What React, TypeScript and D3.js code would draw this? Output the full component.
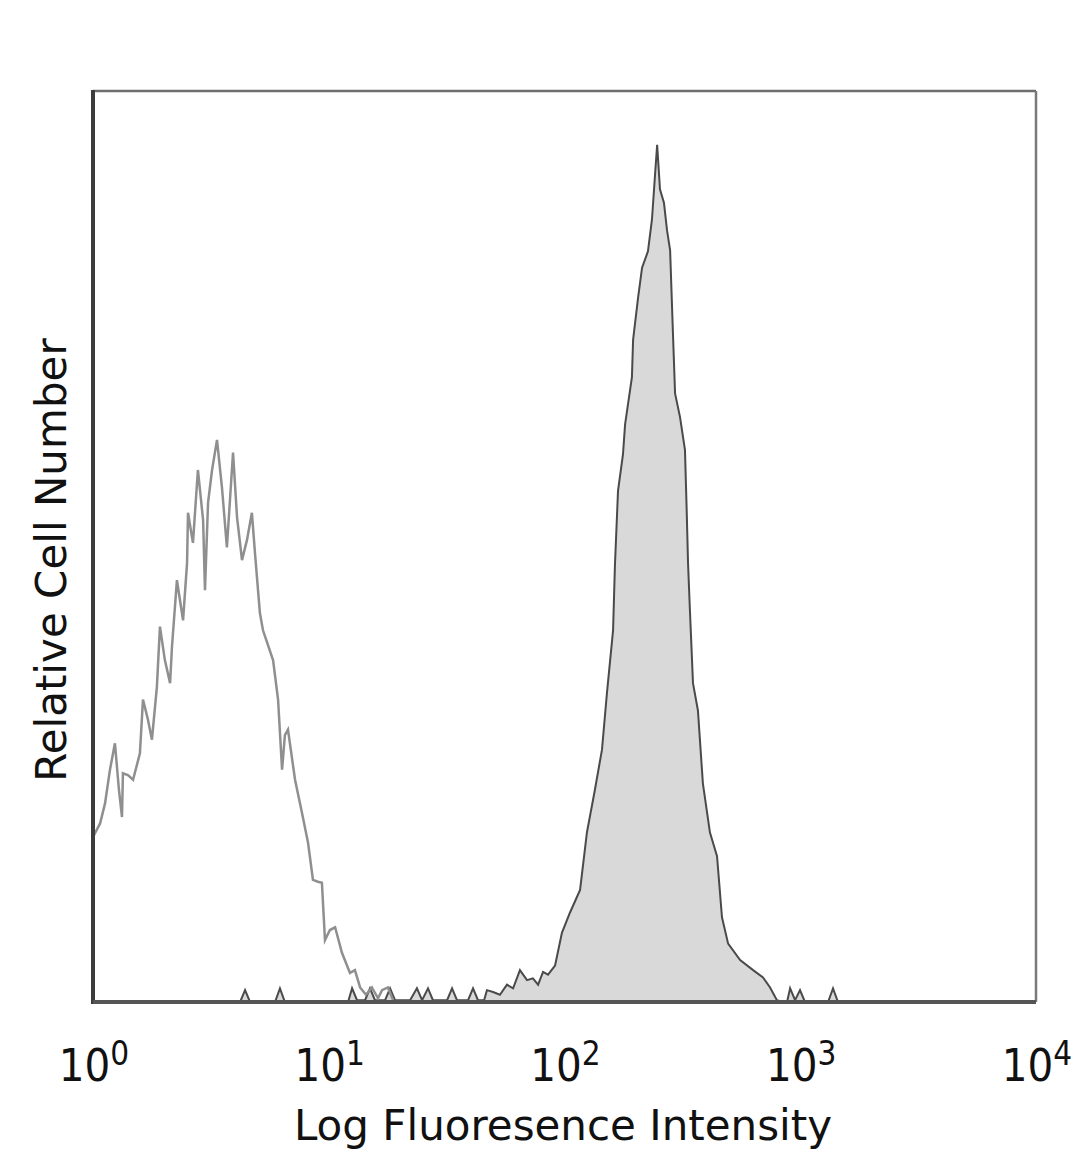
import React from 'react';
import * as d3 from 'd3';

// decade positions (log10 of intensity) and relative counts
const isoLog = [0.004, 0.030, 0.051, 0.072, 0.093, 0.110, 0.123, 0.127, 0.148, 0.170, 0.199, 0.212, 0.233, 0.250, 0.271, 0.284, 0.305, 0.327, 0.335, 0.356, 0.382, 0.399, 0.403, 0.424, 0.445, 0.467, 0.475, 0.488, 0.505, 0.526, 0.547, 0.568, 0.581, 0.594, 0.611, 0.632, 0.653, 0.674, 0.687, 0.708, 0.721, 0.742, 0.764, 0.785, 0.802, 0.814, 0.827, 0.857, 0.887, 0.912, 0.933, 0.954, 0.971, 0.984, 1.005, 1.027, 1.056, 1.090, 1.111, 1.133, 1.158, 1.183, 1.209, 1.226, 1.251, 1.273];
const isoCount = [18.3, 19.6, 21.8, 25.5, 28.4, 23.3, 20.3, 25.1, 24.9, 24.4, 27.3, 33.2, 31.0, 28.8, 34.6, 41.2, 37.5, 35.0, 39.0, 46.3, 41.9, 48.2, 53.7, 50.4, 58.4, 52.9, 45.2, 54.8, 58.4, 61.7, 56.5, 49.9, 55.1, 60.3, 53.2, 48.5, 50.7, 53.7, 49.3, 42.7, 40.8, 39.2, 37.5, 33.2, 25.5, 29.3, 29.9, 24.4, 20.7, 17.5, 13.4, 13.2, 13.1, 6.8, 7.9, 8.2, 5.4, 3.2, 3.5, 1.6, 0.8, 1.6, 0.4, 1.3, 1.6, 0.2];

const stainLog = [0.000, 0.624, 0.645, 0.666, 0.772, 0.793, 0.814, 1.082, 1.099, 1.120, 1.154, 1.175, 1.196, 1.239, 1.260, 1.281, 1.345, 1.374, 1.396, 1.421, 1.442, 1.502, 1.523, 1.544, 1.591, 1.612, 1.633, 1.659, 1.671, 1.697, 1.726, 1.756, 1.782, 1.811, 1.841, 1.866, 1.888, 1.909, 1.930, 1.960, 1.989, 2.023, 2.066, 2.095, 2.129, 2.159, 2.180, 2.206, 2.214, 2.227, 2.248, 2.257, 2.286, 2.291, 2.312, 2.329, 2.354, 2.371, 2.384, 2.393, 2.405, 2.422, 2.435, 2.448, 2.460, 2.469, 2.490, 2.511, 2.519, 2.524, 2.532, 2.545, 2.566, 2.587, 2.617, 2.647, 2.668, 2.694, 2.745, 2.800, 2.842, 2.872, 2.901, 2.927, 2.944, 2.957, 2.978, 2.999, 3.020, 3.118, 3.139, 3.160, 4.000];
const stainCount = [0, 0, 1.3, 0, 0, 1.5, 0, 0, 1.5, 0.2, 0.2, 1.5, 0.2, 0.2, 1.5, 0.2, 0.2, 1.5, 0.2, 1.5, 0.2, 0.2, 1.5, 0.2, 0.2, 1.5, 0.2, 0.2, 1.3, 1.1, 0.8, 1.9, 1.5, 3.5, 2.4, 2.6, 1.9, 3.3, 3.0, 4.0, 7.6, 9.8, 12.3, 18.6, 23.3, 27.7, 33.9, 40.8, 48.0, 56.1, 60.1, 63.4, 68.6, 72.7, 77.3, 80.6, 82.4, 85.9, 90.8, 94.1, 89.2, 87.7, 84.7, 82.5, 73.4, 66.8, 64.2, 60.6, 53.3, 48.2, 43.0, 35.0, 32.0, 24.0, 18.6, 16.0, 9.3, 6.4, 4.6, 3.5, 2.7, 1.6, 0.2, 0, 0, 1.5, 0.2, 1.3, 0, 0, 1.5, 0, 0];

const tickValues = [1, 10, 100, 1000, 10000];
const tickExponents = ['0', '1', '2', '3', '4'];

const W = 1080;
const H = 1169;
const left = 93, right = 1036, top = 91, bottom = 1002;
const titleFont = '"DejaVu Sans", sans-serif';
const tickFont = '"DejaVu Sans Condensed", "DejaVu Sans", sans-serif';

export default function App() {
  const x = d3.scaleLog().domain([1, 10000]).range([left, right]);
  const y = d3.scaleLinear().domain([0, 100]).range([bottom, top]);

  const iso = isoLog.map((d, i) => [10 ** d, isoCount[i]] as [number, number]);
  const stain = stainLog.map((d, i) => [10 ** d, stainCount[i]] as [number, number]);

  const line = d3.line<[number, number]>().x(d => x(d[0])).y(d => y(d[1]));
  const area = d3.area<[number, number]>().x(d => x(d[0])).y0(y(0)).y1(d => y(d[1]));

  return (
    <svg width={W} height={H} style={{ position: 'absolute', left: 0, top: 0, background: '#fff' }}>
      <path d={area(stain) ?? ''} fill="#d9d9d9" stroke="none" />
      <path d={line(stain) ?? ''} fill="none" stroke="#4a4a4a" strokeWidth={2} />
      <path d={line(iso) ?? ''} fill="none" stroke="#8f8f8f" strokeWidth={2.5} />

      {/* frame */}
      <line x1={left} x2={right} y1={top} y2={top} stroke="#6e6e6e" strokeWidth={2.5} />
      <line x1={right} x2={right} y1={top} y2={bottom} stroke="#7a7a7a" strokeWidth={2.5} />
      <line x1={left} x2={left} y1={top - 1} y2={bottom + 2} stroke="#3c3c3c" strokeWidth={4} />
      <line x1={left} x2={right} y1={bottom} y2={bottom} stroke="#555" strokeWidth={4} />

      {tickValues.map((t, i) => (
        <text key={t} x={x(t) + 1} y={1081} textAnchor="middle" fontFamily={tickFont} fontSize={45} fill="#111">
          10<tspan dy={-16} fontSize={33}>{tickExponents[i]}</tspan>
        </text>
      ))}

      <text x={563} y={1140} textAnchor="middle" fontFamily={titleFont} fontSize={42} fill="#111">
        Log Fluoresence Intensity
      </text>
      <text transform={`translate(66,560) rotate(-90)`} textAnchor="middle" fontFamily={titleFont} fontSize={42} fill="#111">
        Relative Cell Number
      </text>
    </svg>
  );
}
